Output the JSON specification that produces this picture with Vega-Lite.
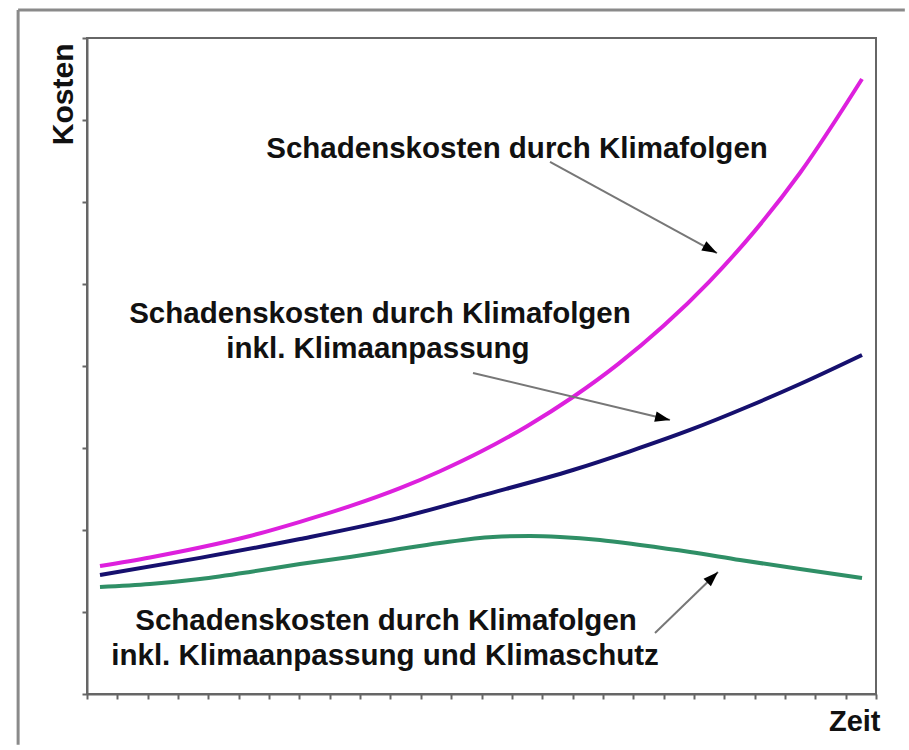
{
  "$schema": "https://vega.github.io/schema/vega-lite/v6.json",
  "width": 789,
  "height": 656,
  "autosize": "none",
  "padding": {"left": 87, "top": 38, "right": 33, "bottom": 56},
  "background": "white",
  "config": {
    "view": {"stroke": "#666666", "strokeWidth": 2},
    "axis": {
      "labels": false, "grid": false,
      "domainColor": "#666666", "domainWidth": 2,
      "tickColor": "#666666", "tickWidth": 2, "tickSize": 5,
      "titleFont": "Liberation Sans", "titleFontWeight": "bold", "titleColor": "#111111", "titleFontSize": 29
    }
  },
  "datasets": {
    "curves": [
      {"series": "Klimafolgen", "x": 0.428, "y": 1.56},
      {"series": "Klimafolgen", "x": 2.076, "y": 1.665},
      {"series": "Klimafolgen", "x": 3.724, "y": 1.786},
      {"series": "Klimafolgen", "x": 5.371, "y": 1.927},
      {"series": "Klimafolgen", "x": 7.019, "y": 2.1},
      {"series": "Klimafolgen", "x": 8.667, "y": 2.29},
      {"series": "Klimafolgen", "x": 10.314, "y": 2.51},
      {"series": "Klimafolgen", "x": 11.632, "y": 2.717},
      {"series": "Klimafolgen", "x": 13.0, "y": 2.96},
      {"series": "Klimafolgen", "x": 14.5, "y": 3.266},
      {"series": "Klimafolgen", "x": 16.015, "y": 3.622},
      {"series": "Klimafolgen", "x": 17.5, "y": 4.023},
      {"series": "Klimafolgen", "x": 19.0, "y": 4.49},
      {"series": "Klimafolgen", "x": 20.5, "y": 5.027},
      {"series": "Klimafolgen", "x": 22.0, "y": 5.645},
      {"series": "Klimafolgen", "x": 23.5, "y": 6.357},
      {"series": "Klimafolgen", "x": 25.539, "y": 7.5},
      {"series": "Anpassung", "x": 0.428, "y": 1.451},
      {"series": "Anpassung", "x": 3.724, "y": 1.66},
      {"series": "Anpassung", "x": 7.019, "y": 1.89},
      {"series": "Anpassung", "x": 10.314, "y": 2.151},
      {"series": "Anpassung", "x": 13.0, "y": 2.42},
      {"series": "Anpassung", "x": 16.015, "y": 2.732},
      {"series": "Anpassung", "x": 17.893, "y": 2.96},
      {"series": "Anpassung", "x": 19.871, "y": 3.22},
      {"series": "Anpassung", "x": 21.848, "y": 3.515},
      {"series": "Anpassung", "x": 23.496, "y": 3.78},
      {"series": "Anpassung", "x": 25.539, "y": 4.134},
      {"series": "Schutz", "x": 0.428, "y": 1.305},
      {"series": "Schutz", "x": 2.076, "y": 1.341},
      {"series": "Schutz", "x": 3.724, "y": 1.402},
      {"series": "Schutz", "x": 5.371, "y": 1.488},
      {"series": "Schutz", "x": 7.019, "y": 1.585},
      {"series": "Schutz", "x": 8.667, "y": 1.671},
      {"series": "Schutz", "x": 10.314, "y": 1.768},
      {"series": "Schutz", "x": 11.632, "y": 1.841},
      {"series": "Schutz", "x": 13.379, "y": 1.915},
      {"series": "Schutz", "x": 14.598, "y": 1.927},
      {"series": "Schutz", "x": 15.587, "y": 1.915},
      {"series": "Schutz", "x": 16.905, "y": 1.878},
      {"series": "Schutz", "x": 18.223, "y": 1.817},
      {"series": "Schutz", "x": 19.871, "y": 1.732},
      {"series": "Schutz", "x": 21.518, "y": 1.634},
      {"series": "Schutz", "x": 23.496, "y": 1.524},
      {"series": "Schutz", "x": 25.539, "y": 1.415}
    ],
    "labels": [
      {"text": "Schadenskosten durch Klimafolgen", "x": 14.17, "y": 6.537},
      {"text": "Schadenskosten durch Klimafolgen", "x": 9.655, "y": 4.524},
      {"text": "inkl. Klimaanpassung", "x": 9.589, "y": 4.098},
      {"text": "Schadenskosten durch Klimafolgen", "x": 9.853, "y": 0.78},
      {"text": "inkl. Klimaanpassung und Klimaschutz", "x": 9.82, "y": 0.354}
    ],
    "arrows": [
      {"arrow": "a1", "x": 15.257, "y": 6.488, "x2": 20.76, "y2": 5.378},
      {"arrow": "a2", "x": 12.72, "y": 3.915, "x2": 19.212, "y2": 3.341},
      {"arrow": "a3", "x": 18.717, "y": 0.744, "x2": 20.793, "y2": 1.488}
    ],
    "heads": [
      {"arrow": "a1", "x": 20.76, "y": 5.378},
      {"arrow": "a2", "x": 19.212, "y": 3.341},
      {"arrow": "a3", "x": 20.793, "y": 1.488}
    ],
    "frame": [
      {"x": -2.27, "y": -0.62, "x2": -2.27, "y2": 8.34},
      {"x": -2.27, "y": 8.34, "x2": 26.95, "y2": 8.34}
    ]
  },
  "encoding": {
    "x": {"field": "x", "type": "quantitative", "scale": {"domain": [0, 26], "nice": false, "zero": false},
          "axis": {"values": [0,1,2,3,4,5,6,7,8,9,10,11,12,13,14,15,16,17,18,19,20,21,22,23,24,25,26],
                   "title": "Zeit", "titleAnchor": "end", "titleAlign": "right", "titleBaseline": "alphabetic",
                   "titleX": 793, "titleY": 36, "titleAngle": 0}},
    "y": {"field": "y", "type": "quantitative", "scale": {"domain": [0, 8], "nice": false},
          "axis": {"values": [0,1,2,3,4,5,6,7,8], "title": "Kosten", "titleAngle": -90, "titleFontSize": 30,
                   "titleAlign": "right", "titleBaseline": "middle", "titleX": -24, "titleY": 5}}
  },
  "layer": [
    {
      "data": {"name": "curves"},
      "mark": {"type": "line", "strokeWidth": 4, "interpolate": "monotone"},
      "encoding": {
        "color": {"field": "series", "type": "nominal",
                  "scale": {"domain": ["Klimafolgen", "Anpassung", "Schutz"], "range": ["#dd20dd", "#16106e", "#2f8f66"]},
                  "legend": null}
      }
    },
    {
      "data": {"name": "frame"},
      "mark": {"type": "rule", "color": "#8a8a8a", "strokeWidth": 3},
      "encoding": {
        "x2": {"field": "x2"},
        "y2": {"field": "y2"}
      }
    },
    {
      "data": {"name": "arrows"},
      "mark": {"type": "rule", "color": "#777777", "strokeWidth": 2},
      "encoding": {
        "x2": {"field": "x2"},
        "y2": {"field": "y2"}
      }
    },
    {
      "data": {"name": "heads"},
      "transform": [{"filter": "datum.arrow === 'a1'"}],
      "mark": {"type": "point", "filled": true, "color": "#000000", "opacity": 1, "size": 225, "angle": 118.6, "shape": "M0,0L-0.7,2L0.7,2Z"},
      "encoding": {}
    },
    {
      "data": {"name": "heads"},
      "transform": [{"filter": "datum.arrow === 'a2'"}],
      "mark": {"type": "point", "filled": true, "color": "#000000", "opacity": 1, "size": 225, "angle": 103.4, "shape": "M0,0L-0.7,2L0.7,2Z"},
      "encoding": {}
    },
    {
      "data": {"name": "heads"},
      "transform": [{"filter": "datum.arrow === 'a3'"}],
      "mark": {"type": "point", "filled": true, "color": "#000000", "opacity": 1, "size": 225, "angle": 46, "shape": "M0,0L-0.7,2L0.7,2Z"},
      "encoding": {}
    },
    {
      "data": {"name": "labels"},
      "mark": {"type": "text", "font": "Liberation Sans", "fontWeight": "bold", "fontSize": 29.5, "color": "#111111", "align": "center", "baseline": "alphabetic"},
      "encoding": {
        "text": {"field": "text", "type": "nominal"}
      }
    }
  ]
}
